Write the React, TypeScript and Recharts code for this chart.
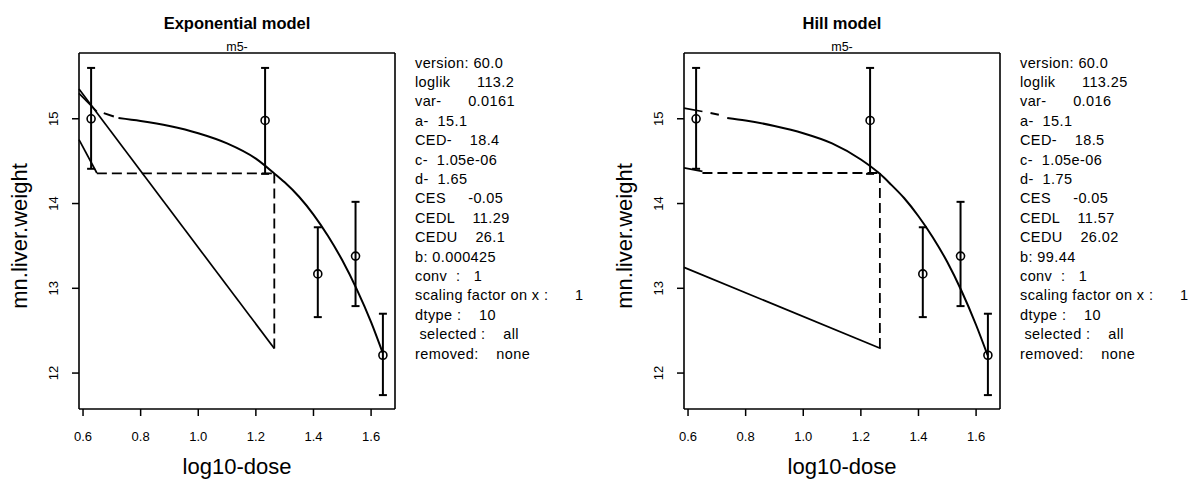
import React from 'react';
import { ComposedChart, XAxis, YAxis, Line, Scatter, ErrorBar, ReferenceLine } from 'recharts';

// ---- shared axes ----
const xDomain = [0.586, 1.683];
const yDomain = [11.576, 15.776];
const xTicks = [0.6, 0.8, 1.0, 1.2, 1.4, 1.6];
const yTicks = [12, 13, 14, 15];

// ---- observed data (log10-dose, mean, bar ends) ----
const doseLog = [0.628, 1.232, 1.415, 1.546, 1.641];
const meanWeight = [15.0, 14.98, 13.17, 13.38, 12.21];
const barLow = [14.41, 14.35, 12.66, 12.79, 11.74];
const barHigh = [15.6, 15.6, 13.72, 14.02, 12.7];

// ---- exponential model fitted curve ----
const expCurveX = [0.723, 0.8, 0.9, 1.0, 1.1, 1.2, 1.264, 1.3, 1.35, 1.4, 1.45, 1.5, 1.55, 1.6, 1.64];
const expCurveY = [15.01, 14.975, 14.915, 14.83, 14.71, 14.53, 14.355, 14.25, 14.08, 13.87, 13.62, 13.33, 12.99, 12.6, 12.24];
const expDashX = [0.672, 0.707];
const expDashY = [15.067, 15.027];
// straight segments: [x1, y1, x2, y2]
const expLongLine = [0.586, 15.35, 1.264, 12.29];
const expUpperShort = [0.586, 15.3, 0.648, 15.086];
const expLowerShort = [0.586, 14.753, 0.648, 14.36];
const expCedH = [0.648, 14.355, 1.264, 14.355];
const expCedV = [1.264, 14.355, 1.264, 12.29];

// ---- Hill model fitted curve ----
const hillCurveX = [0.736, 0.8, 0.9, 1.0, 1.1, 1.2, 1.266, 1.3, 1.35, 1.4, 1.45, 1.5, 1.55, 1.6, 1.64];
const hillCurveY = [15.01, 14.98, 14.915, 14.83, 14.71, 14.52, 14.35, 14.24, 14.065, 13.85, 13.6, 13.31, 12.965, 12.567, 12.21];
const hillDashX = [0.678, 0.707];
const hillDashY = [15.067, 15.047];
const hillLongLine = [0.586, 13.247, 1.269, 12.29];
const hillUpperShort = [0.586, 15.126, 0.65, 15.086];
const hillLowerShort = [0.586, 14.42, 0.65, 14.38];
const hillCedH = [0.65, 14.36, 1.266, 14.36];
const hillCedV = [1.266, 14.36, 1.266, 12.29];

// ---- text ----
const expTitle = 'Exponential model';
const hillTitle = 'Hill model';
const subTitle = 'm5-';
const xLabel = 'log10-dose';
const yLabel = 'mn.liver.weight';
const statLabels = ['version: ', 'loglik      ', 'var-      ', 'a-  ', 'CED-    ', 'c-  ', 'd-  ', 'CES     ', 'CEDL    ', 'CEDU    ', 'b: ', 'conv  :   ', 'scaling factor on x :      ', 'dtype :    ', ' selected :    ', 'removed:    '];
const expStatValues = ['60.0', '113.2', '0.0161', '15.1', '18.4', '1.05e-06', '1.65', '-0.05', '11.29', '26.1', '0.000425', '1', '1', '10', 'all', 'none'];
const hillStatValues = ['60.0', '113.25', '0.016', '15.1', '18.5', '1.05e-06', '1.75', '-0.05', '11.57', '26.02', '99.44', '1', '1', '10', 'all', 'none'];

const FONT = '"Liberation Sans", Arial, Helvetica, sans-serif';

const observed = doseLog.map((x, i) => ({
  x,
  y: meanWeight[i],
  err: [meanWeight[i] - barLow[i], barHigh[i] - meanWeight[i]],
}));

const toPts = (xs: number[], ys: number[]) => xs.map((x, i) => ({ x, y: ys[i] }));
const seg = (s: number[]) => [{ x: s[0], y: s[1] }, { x: s[2], y: s[3] }];

const YTick = (props: any) => {
  const { x, y, payload } = props;
  return (
    <text x={x} y={y} transform={`rotate(-90, ${x}, ${y})`} textAnchor="middle" dominantBaseline="central" fontSize={13} fill="#000" fontFamily={FONT}>
      {payload.value}
    </text>
  );
};

const Circle = (props: any) => {
  const { cx, cy } = props;
  return <circle cx={cx} cy={cy} r={4} fill="none" stroke="#000" strokeWidth={1.6} />;
};

const frame = { stroke: '#000', strokeWidth: 1.6 };

type PanelProps = {
  curveX: number[]; curveY: number[]; dashX: number[]; dashY: number[];
  longLine: number[]; upperShort: number[]; lowerShort: number[]; cedH: number[]; cedV: number[];
};

const Panel = (p: PanelProps) => (
  <ComposedChart width={600} height={480} margin={{ top: 53, right: 205, bottom: 41, left: 39 }}>
    <XAxis type="number" dataKey="x" domain={xDomain} ticks={xTicks} allowDataOverflow interval={0}
      tickFormatter={(v: number) => v.toFixed(1)} tickSize={7} tickMargin={16} height={30} axisLine={frame}
      tickLine={{ stroke: '#000', strokeWidth: 1.5 }} tick={{ fill: '#000', fontSize: 13, fontFamily: FONT }} />
    <YAxis type="number" dataKey="y" domain={yDomain} ticks={yTicks} allowDataOverflow interval={0}
      tickSize={7} tickMargin={18} width={40} axisLine={frame}
      tickLine={{ stroke: '#000', strokeWidth: 1.5 }} tick={<YTick />} />
    <ReferenceLine y={yDomain[1]} stroke="#000" strokeWidth={1.6} ifOverflow="visible" />
    <ReferenceLine x={xDomain[1]} stroke="#000" strokeWidth={1.6} ifOverflow="visible" />
    <ReferenceLine segment={seg(p.longLine)} stroke="#000" strokeWidth={1.7} ifOverflow="visible" />
    <ReferenceLine segment={seg(p.upperShort)} stroke="#000" strokeWidth={1.7} ifOverflow="visible" />
    <ReferenceLine segment={seg(p.lowerShort)} stroke="#000" strokeWidth={1.7} ifOverflow="visible" />
    <ReferenceLine segment={seg(p.cedH)} stroke="#000" strokeWidth={1.8} strokeDasharray="10 5" ifOverflow="visible" />
    <ReferenceLine segment={seg(p.cedV)} stroke="#000" strokeWidth={1.8} strokeDasharray="10 5" ifOverflow="visible" />
    <Line data={toPts(p.dashX, p.dashY)} dataKey="y" type="linear" dot={false} stroke="#000" strokeWidth={2} isAnimationActive={false} />
    <Line data={toPts(p.curveX, p.curveY)} dataKey="y" type="monotone" dot={false} stroke="#000" strokeWidth={2} isAnimationActive={false} />
    <Scatter data={observed} dataKey="y" shape={<Circle />} isAnimationActive={false}>
      <ErrorBar dataKey="err" direction="y" width={4} stroke="#000" strokeWidth={2} isAnimationActive={false} />
    </Scatter>
  </ComposedChart>
);

const Txt = ({ x, y, children, size, bold, rotate }: any) => (
  <div style={{
    position: 'absolute', left: x, top: y, transform: `translate(-50%, -50%)${rotate ? ' rotate(-90deg)' : ''}`,
    whiteSpace: 'nowrap', fontSize: size, fontWeight: bold ? 'bold' : 'normal', lineHeight: 1, fontFamily: FONT, color: '#000',
  }}>{children}</div>
);

const Stats = ({ x, values }: { x: number; values: string[] }) => (
  <div style={{ position: 'absolute', left: x, top: 53.6, fontFamily: FONT, fontSize: 14.5, letterSpacing: 0.4, lineHeight: '19.4px', whiteSpace: 'pre', color: '#000' }}>
    {statLabels.map((l, i) => (<div key={i}>{l + values[i]}</div>))}
  </div>
);

export default function App() {
  return (
    <div style={{ position: 'absolute', left: 0, top: 0, width: 1195, height: 480, background: '#fff', overflow: 'hidden' }}>
      <div style={{ position: 'absolute', left: 0, top: 0 }}>
        <Panel curveX={expCurveX} curveY={expCurveY} dashX={expDashX} dashY={expDashY} longLine={expLongLine}
          upperShort={expUpperShort} lowerShort={expLowerShort} cedH={expCedH} cedV={expCedV} />
      </div>
      <div style={{ position: 'absolute', left: 605, top: 0 }}>
        <Panel curveX={hillCurveX} curveY={hillCurveY} dashX={hillDashX} dashY={hillDashY} longLine={hillLongLine}
          upperShort={hillUpperShort} lowerShort={hillLowerShort} cedH={hillCedH} cedV={hillCedV} />
      </div>
      <Txt x={237} y={23} size={16.5} bold>{expTitle}</Txt>
      <Txt x={237} y={47} size={12.5}>{subTitle}</Txt>
      <Txt x={237} y={467} size={22}>{xLabel}</Txt>
      <Txt x={20} y={236} size={22} rotate>{yLabel}</Txt>
      <Txt x={842} y={23} size={16.5} bold>{hillTitle}</Txt>
      <Txt x={842} y={47} size={12.5}>{subTitle}</Txt>
      <Txt x={842} y={467} size={22}>{xLabel}</Txt>
      <Txt x={625} y={236} size={22} rotate>{yLabel}</Txt>
      <Stats x={415} values={expStatValues} />
      <Stats x={1020} values={hillStatValues} />
    </div>
  );
}
